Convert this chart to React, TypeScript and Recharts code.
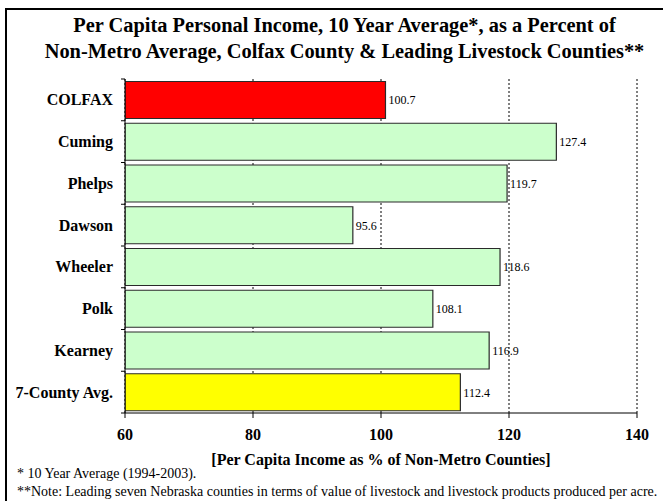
import { BarChart, Bar, XAxis, YAxis, CartesianGrid, Cell, LabelList } from "recharts";

const counties = ["COLFAX", "Cuming", "Phelps", "Dawson", "Wheeler", "Polk", "Kearney", "7-County Avg."];
const incomePct = [100.7, 127.4, 119.7, 95.6, 118.6, 108.1, 116.9, 112.4];
const barColors = ["#FF0000", "#CCFFCC", "#CCFFCC", "#CCFFCC", "#CCFFCC", "#CCFFCC", "#CCFFCC", "#FFFF00"];
const xTicks = [60, 80, 100, 120, 140];

const titleLines = [
  "Per Capita Personal Income, 10 Year Average*, as a Percent of",
  "Non-Metro Average, Colfax County & Leading Livestock Counties**",
];
const axisTitle = "[Per Capita Income as % of Non-Metro Counties]";
const footnotes = [
  "* 10 Year Average (1994-2003).",
  "**Note: Leading seven Nebraska counties in terms of value of livestock and livestock products produced per acre.",
];

const SERIF = "'Liberation Serif', 'Times New Roman', Times, serif";

const W = 663;
const H = 501;
const margin = { top: 79, right: 26, bottom: 58, left: 0 };
const Y_AXIS_W = 125;
const X_AXIS_H = 30;
const plotHeight = H - margin.top - margin.bottom - X_AXIS_H;
const bandSize = plotHeight / counties.length;
const TICK_SIZE = 4;
const TICK_MARGIN = 8;

const data = counties.map((name, i) => ({ name, value: incomePct[i] }));

// category label centred in the band, tick marks on the band edges
function CountyTick(props: any) {
  const { x, y, payload, index } = props;
  const lx = x + TICK_MARGIN;
  const half = bandSize / 2;
  return (
    <g>
      <line x1={lx} x2={lx + TICK_SIZE} y1={y - half} y2={y - half} stroke="#000" />
      {index === counties.length - 1 && (
        <line x1={lx} x2={lx + TICK_SIZE} y1={y + half} y2={y + half} stroke="#000" />
      )}
      <text
        x={x}
        y={y}
        dy="0.35em"
        textAnchor="end"
        fontFamily={SERIF}
        fontWeight="bold"
        fontSize={16}
        fill="#000"
      >
        {payload.value}
      </text>
    </g>
  );
}

export default function App() {
  return (
    <div
      style={{
        position: "absolute",
        left: 0,
        top: 0,
        width: W,
        height: H,
        overflow: "hidden",
        background: "#fff",
        fontFamily: SERIF,
        color: "#000",
      }}
    >
      <div
        style={{
          position: "absolute",
          left: 5,
          top: 8,
          width: 700,
          height: 600,
          borderLeft: "2px solid #000",
          borderTop: "2px solid #000",
        }}
      />
      <div
        style={{
          position: "absolute",
          left: 13,
          top: 12,
          width: W,
          textAlign: "center",
          fontWeight: "bold",
          fontSize: 20.4,
          lineHeight: "26px",
          whiteSpace: "nowrap",
        }}
      >
        {titleLines.map((t) => (
          <div key={t}>{t}</div>
        ))}
      </div>
      <div style={{ position: "absolute", left: 0, top: 0 }}>
        <BarChart width={W} height={H} data={data} layout="vertical" margin={margin} barCategoryGap="6%">
          <CartesianGrid horizontal={false} stroke="#000" strokeDasharray="2 2" />
          <XAxis
            type="number"
            domain={[60, 140]}
            ticks={xTicks}
            allowDataOverflow
            height={X_AXIS_H}
            stroke="#000"
            tickSize={5}
            tickMargin={11}
            tick={{ fill: "#000", fontFamily: SERIF, fontWeight: "bold", fontSize: 16 }}
            label={{
              value: axisTitle,
              position: "bottom",
              offset: 11,
              fill: "#000",
              fontFamily: SERIF,
              fontWeight: "bold",
              fontSize: 16,
            }}
          />
          <YAxis
            type="category"
            dataKey="name"
            width={Y_AXIS_W}
            stroke="#000"
            tickLine={false}
            tickSize={TICK_SIZE}
            tickMargin={TICK_MARGIN}
            tick={<CountyTick />}
            interval={0}
          />
          <Bar dataKey="value" isAnimationActive={false} stroke="#2a2a2a" strokeWidth={1.2}>
            {data.map((d, i) => (
              <Cell key={d.name} fill={barColors[i]} />
            ))}
            <LabelList
              dataKey="value"
              position="right"
              offset={3}
              fill="#000"
              fontFamily={SERIF}
              fontSize={12}
              formatter={(v: any) => Number(v).toFixed(1)}
            />
          </Bar>
        </BarChart>
      </div>
      <div
        style={{
          position: "absolute",
          left: 17,
          top: 465,
          fontSize: 14,
          lineHeight: "18px",
          whiteSpace: "nowrap",
        }}
      >
        {footnotes.map((t) => (
          <div key={t}>{t}</div>
        ))}
      </div>
    </div>
  );
}
